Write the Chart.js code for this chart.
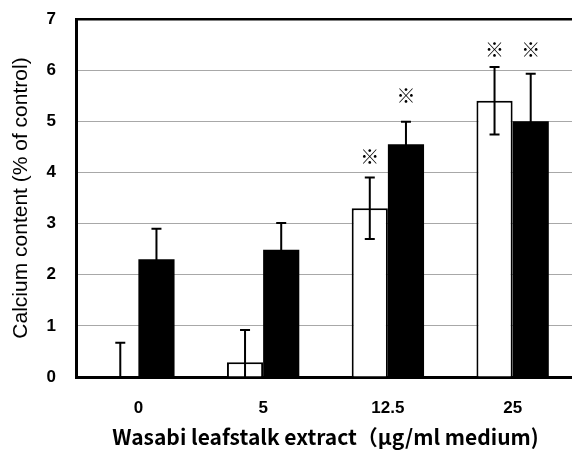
<!DOCTYPE html>
<html>
<head>
<meta charset="utf-8">
<script src="https://cdn.jsdelivr.net/npm/chart.js@4"></script>
<style>
  html, body { margin: 0; padding: 0; background: #fff; overflow: hidden; }
  #wrap { width: 576px; height: 450px; }
</style>
</head>
<body>
<div id="wrap"><canvas id="calcChart"></canvas></div>
<script>
// doses of wasabi leafstalk extract
const doses = ['0', '5', '12.5', '25'];

// white bars / black bars, with SD
const whiteVals = [0, 0.29, 3.3, 5.4];
const whiteErr = [0.67, 0.63, 0.6, 0.66];
const blackVals = [2.3, 2.49, 4.55, 5.0];
const blackErr = [0.6, 0.52, 0.44, 0.93];

// where the ※ marks sit (null = no mark)
const whiteMark = [null, null, 4.3, 6.4];
const blackMark = [null, null, 5.5, 6.4];

const yTicks = [0, 1, 2, 3, 4, 5, 6, 7];

const errorBars = {
  id: 'errorBars',
  afterDatasetsDraw(chart) {
    const ctx = chart.ctx;
    const y = chart.scales.y;
    const area = chart.chartArea;
    const errs = [whiteErr, blackErr];
    const marks = [whiteMark, blackMark];
    ctx.save();
    ctx.beginPath();
    ctx.rect(area.left, area.top - 5, area.right - area.left, area.bottom - area.top + 5);
    ctx.clip();
    ctx.strokeStyle = '#000';
    ctx.lineWidth = 2;
    chart.data.datasets.forEach((ds, i) => {
      chart.getDatasetMeta(i).data.forEach((bar, j) => {
        const v = ds.data[j];
        const top = y.getPixelForValue(v + errs[i][j]);
        const bot = y.getPixelForValue(v - errs[i][j]);
        ctx.beginPath();
        ctx.moveTo(bar.x, top);
        ctx.lineTo(bar.x, bot);
        ctx.moveTo(bar.x - 5, top);
        ctx.lineTo(bar.x + 5, top);
        ctx.moveTo(bar.x - 5, bot);
        ctx.lineTo(bar.x + 5, bot);
        ctx.stroke();
      });
    });
    ctx.restore();

    ctx.save();
    ctx.fillStyle = '#000';
    ctx.font = 'bold 19px "Noto Sans CJK JP"';
    ctx.textAlign = 'center';
    ctx.textBaseline = 'middle';
    chart.data.datasets.forEach((ds, i) => {
      chart.getDatasetMeta(i).data.forEach((bar, j) => {
        const m = marks[i][j];
        if (m !== null) ctx.fillText('※', bar.x, y.getPixelForValue(m));
      });
    });
    ctx.restore();
  }
};

const tickFont = { family: '"Liberation Sans", Arial', size: 17, weight: 'bold' };

new Chart(document.getElementById('calcChart'), {
  type: 'bar',
  data: {
    labels: doses,
    datasets: [
      {
        label: 'white',
        data: whiteVals,
        backgroundColor: '#fff',
        borderColor: '#000',
        borderWidth: 2,
        borderSkipped: 'bottom'
      },
      {
        label: 'black',
        data: blackVals,
        backgroundColor: '#000',
        borderColor: '#000',
        borderWidth: 0
      }
    ]
  },
  options: {
    responsive: true,
    maintainAspectRatio: false,
    animation: false,
    layout: { padding: { top: 19, right: 1, left: 0, bottom: 0 } },
    plugins: { legend: { display: false }, tooltip: { enabled: false } },
    datasets: { bar: { categoryPercentage: 0.58, barPercentage: 1 } },
    scales: {
      x: {
        grid: { display: false },
        border: { color: '#000', width: 3 },
        ticks: { color: '#000', padding: 13, font: tickFont },
        title: {
          display: true,
          text: 'Wasabi leafstalk extract（μg/ml medium)',
          color: '#000',
          padding: { top: 4, bottom: 0 },
          font: { family: '"Noto Sans CJK JP"', size: 21, weight: 'bold' }
        },
        afterFit(scale) { scale.height = 73; }
      },
      y: {
        min: 0,
        max: 7,
        afterBuildTicks(scale) { scale.ticks = yTicks.map(v => ({ value: v })); },
        grid: {
          drawTicks: false,
          color: c => (c.tick.value === 7 ? '#000' : '#a8a8a8'),
          lineWidth: c => (c.tick.value === 7 ? 2.5 : 1)
        },
        border: { color: '#000', width: 3 },
        ticks: { color: '#000', padding: 20, font: tickFont },
        title: {
          display: true,
          text: 'Calcium content (% of control)',
          color: '#000',
          padding: { top: 9, bottom: 0 },
          font: { family: '"Liberation Sans", Arial', size: 21 }
        },
        afterFit(scale) {
          scale.width = 76;
          scale.paddingTop = 0;
          scale.paddingBottom = 0;
        }
      }
    }
  },
  plugins: [errorBars]
});
</script>
</body>
</html>
